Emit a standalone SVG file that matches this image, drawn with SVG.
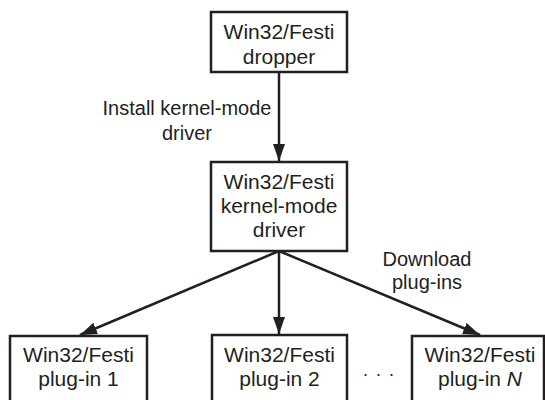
<svg xmlns="http://www.w3.org/2000/svg" width="545" height="400" viewBox="0 0 545 400">
<defs>
<style>
.box{fill:#fff;stroke:#231f20;stroke-width:2.5}
.t{font-family:"Liberation Sans",Arial,sans-serif;font-size:20px;fill:#231f20;text-anchor:middle}
.b{font-size:21px}
.c{stroke:#231f20;stroke-width:2.5;fill:none}
</style>
<marker id="ah" markerUnits="userSpaceOnUse" markerWidth="18" markerHeight="14" viewBox="0 0 18 14" refX="17" refY="7" orient="auto">
<path d="M0,1 L17,7 L0,13 Z" fill="#231f20"/>
</marker>
</defs>
<rect width="545" height="400" fill="#fff"/>
<g id="connectors">
<line class="c" x1="279" y1="72" x2="279" y2="161" marker-end="url(#ah)"/>
<line class="c" x1="279" y1="251" x2="279" y2="334" marker-end="url(#ah)"/>
<line class="c" x1="279" y1="251" x2="80" y2="335" marker-end="url(#ah)"/>
<line class="c" x1="279" y1="251" x2="480" y2="335" marker-end="url(#ah)"/>
<text class="t" x="187" y="115">Install kernel-mode</text>
<text class="t" x="187" y="140">driver</text>
<text class="t" x="427" y="266">Download</text>
<text class="t" x="427" y="289">plug-ins</text>
</g>
<g id="dropper">
<rect class="box" x="211" y="12" width="136" height="60"/>
<text class="t b" x="279" y="39">Win32/Festi</text>
<text class="t b" x="279" y="64">dropper</text>
</g>
<g id="driver">
<rect class="box" x="211" y="162" width="136" height="89"/>
<text class="t b" x="279" y="189">Win32/Festi</text>
<text class="t b" x="279" y="213">kernel-mode</text>
<text class="t b" x="279" y="237">driver</text>
</g>
<g id="plugin1">
<rect class="box" x="10" y="336" width="137" height="80"/>
<text class="t b" x="78.500" y="362">Win32/Festi</text>
<text class="t b" x="78.500" y="386">plug-in 1</text>
</g>
<g id="plugin2">
<rect class="box" x="212" y="335" width="135" height="80"/>
<text class="t b" x="279.500" y="362">Win32/Festi</text>
<text class="t b" x="279.500" y="386">plug-in 2</text>
</g>
<g id="ellipsis">
<text class="t" x="379" y="380" style="font-size:18px;letter-spacing:1px">· · ·</text>
</g>
<g id="pluginN">
<rect class="box" x="412" y="336" width="132" height="80"/>
<text class="t b" x="480" y="362">Win32/Festi</text>
<text class="t b" x="480" y="386">plug-in <tspan font-style="italic">N</tspan></text>
</g>
</svg>
